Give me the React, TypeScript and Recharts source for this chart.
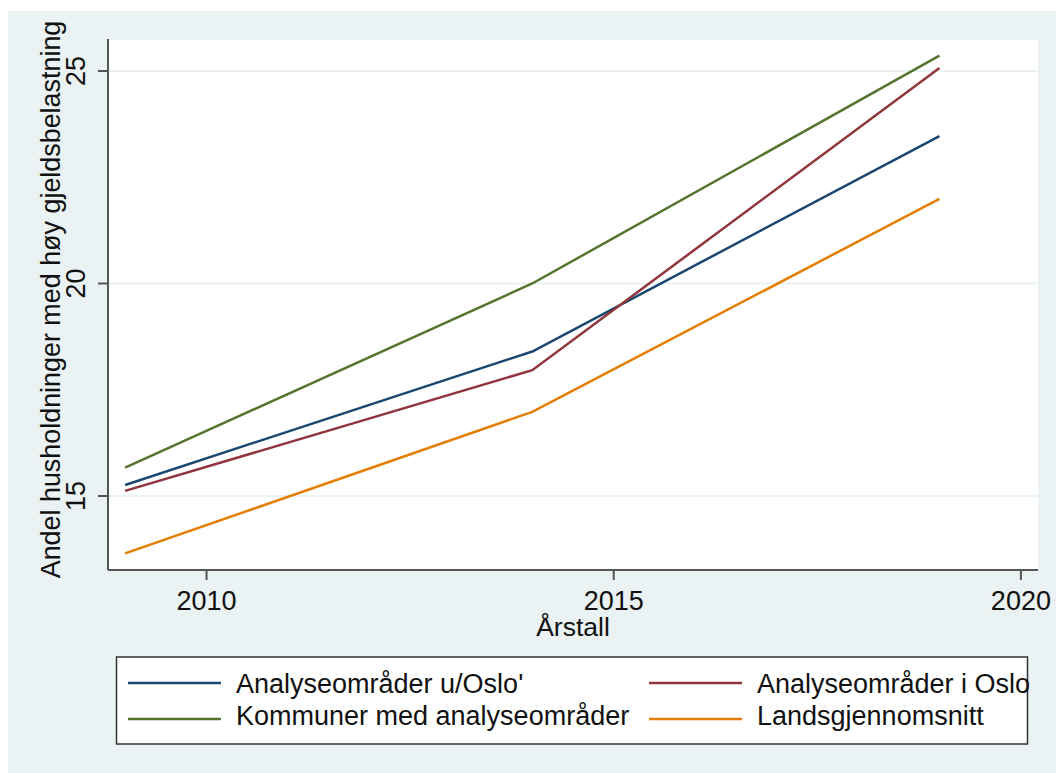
import { CartesianGrid, Label, Line, LineChart, XAxis, YAxis } from "recharts";

const years = [2009, 2014, 2019];
const utenOslo = [15.26, 18.4, 23.47];
const iOslo = [15.12, 17.96, 25.07];
const kommuner = [15.67, 20.0, 25.36];
const lands = [13.65, 16.98, 21.99];

const seriesNames = [
    "Analyseområder u/Oslo'",
    "Analyseområder i Oslo",
    "Kommuner med analyseområder",
    "Landsgjennomsnitt",
];
const seriesKeys = ["utenOslo", "iOslo", "kommuner", "lands"];
const colors = ["#1a476f", "#90353b", "#55752f", "#e37e00"];

const xTicks = [2010, 2015, 2020];
const yTicks = [15, 20, 25];

const data = years.map((year, i) => ({
    year,
    utenOslo: utenOslo[i],
    iOslo: iOslo[i],
    kommuner: kommuner[i],
    lands: lands[i],
}));

const FONT = "'Liberation Sans', Arial, sans-serif";
const AXIS = "#555";

function XTick({ x, y, payload }: any) {
    return (
        <text x={x} y={y} dy={30} textAnchor="middle" fontFamily={FONT} fontSize={27} fill="#111">
            {payload.value}
        </text>
    );
}

function YTick({ x, y, payload }: any) {
    const tx = x - 13;
    return (
        <text x={tx} y={y} textAnchor="middle" transform={`rotate(-90, ${tx}, ${y})`}
            fontFamily={FONT} fontSize={27} fill="#111">
            {payload.value}
        </text>
    );
}

function ChartLegend() {
    // two columns, two rows like the Stata legend
    const order = [0, 1, 2, 3];
    return (
        <svg width={1048} height={762} style={{ position: "absolute", left: 0, top: 0, pointerEvents: "none" }}>
            <rect x={108.5} y={646} width={911} height={87} fill="#fff" stroke="#333" strokeWidth={1.5} />
            {order.map((idx) => {
                const col = idx % 2;
                const row = Math.floor(idx / 2);
                const lx = col === 0 ? 120 : 641;
                const ly = row === 0 ? 672 : 708;
                return (
                    <g key={seriesKeys[idx]}>
                        <line x1={lx} x2={lx + 93} y1={ly} y2={ly} stroke={colors[idx]} strokeWidth={2.5} />
                        <text x={lx + 108} y={row === 0 ? 682 : 714} fontFamily={FONT} fontSize={27} fill="#111">
                            {seriesNames[idx]}
                        </text>
                    </g>
                );
            })}
        </svg>
    );
}

export default function App() {
    return (
        <div style={{ position: "absolute", left: 8, top: 11, width: 1048, height: 762, background: "#eaf2f3" }}>
            <LineChart width={1048} height={762} data={data}
                margin={{ top: 28, right: 18, bottom: 143, left: 0 }}>
                <CartesianGrid vertical={false} horizontal={true} fill="#fff" stroke="#eaf2f3" strokeWidth={2} />
                <XAxis dataKey="year" type="number" domain={[2008.79, 2020.21]} ticks={xTicks}
                    allowDataOverflow height={60} tickSize={10} tickMargin={0}
                    axisLine={{ stroke: AXIS, strokeWidth: 2 }} tickLine={{ stroke: AXIS, strokeWidth: 2 }}
                    tick={<XTick />}>
                    <Label content={({ viewBox }: any) => (
                        <text x={viewBox.x + viewBox.width / 2} y={viewBox.y + 66} textAnchor="middle"
                            fontFamily={FONT} fontSize={26.5} fill="#111">
                            Årstall
                        </text>
                    )} />
                </XAxis>
                <YAxis type="number" domain={[13.259, 25.753]} ticks={yTicks} allowDataOverflow
                    width={100} tickSize={10} tickMargin={0}
                    axisLine={{ stroke: AXIS, strokeWidth: 2 }} tickLine={{ stroke: AXIS, strokeWidth: 2 }}
                    tick={<YTick />}>
                    <Label content={({ viewBox }: any) => {
                        const cx = viewBox.x + 52;
                        const cy = viewBox.y + viewBox.height / 2 - 5;
                        return (
                            <text x={cx} y={cy} textAnchor="middle" transform={`rotate(-90, ${cx}, ${cy})`}
                                fontFamily={FONT} fontSize={26.9} fill="#111">
                                Andel husholdninger med høy gjeldsbelastning
                            </text>
                        );
                    }} />
                </YAxis>
                {seriesKeys.map((k, i) => (
                    <Line key={k} dataKey={k} name={seriesNames[i]} type="linear" stroke={colors[i]}
                        strokeWidth={2.5} dot={false} isAnimationActive={false} />
                ))}
            </LineChart>
            <ChartLegend />
        </div>
    );
}
